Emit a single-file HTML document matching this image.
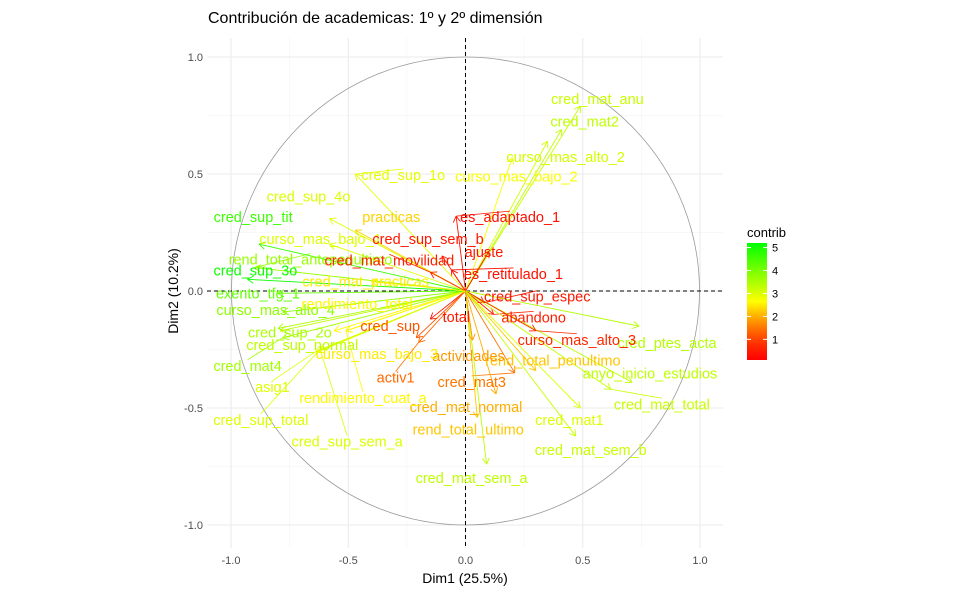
<!DOCTYPE html>
<html><head><meta charset="utf-8"><style>
body{margin:0;background:#fff;font-family:"Liberation Sans",Arial,sans-serif}
svg text{font-family:"Liberation Sans",Arial,sans-serif}
</style></head><body>
<svg id="chart" width="960" height="593" xmlns="http://www.w3.org/2000/svg">
<text x="208" y="23" font-size="16" fill="#000">Contribución de academicas: 1º y 2º dimensión</text>
<g id="grid"></g>
<g id="axes"></g>
<g id="marks"></g>
<g id="labels"></g>
<text x="465" y="583" font-size="14" text-anchor="middle" fill="#000">Dim1 (25.5%)</text>
<text transform="translate(178,291) rotate(-90)" font-size="14" text-anchor="middle" fill="#000">Dim2 (10.2%)</text>
<g id="legend"></g>
</svg>
<script>
const names=["cred_mat_anu","cred_mat2","curso_mas_alto_2","curso_mas_bajo_2","es_adaptado_1","ajuste","es_retitulado_1","cred_sup_espec","abandono","cred_ptes_acta","anyo_inicio_estudios","cred_mat_total","curso_mas_alto_3","rend_total_penultimo","cred_mat3","cred_mat_normal","rend_total_ultimo","cred_mat1","cred_mat_sem_b","cred_mat_sem_a","actividades","total","cred_sup","activ1","curso_mas_bajo_3","cred_sup_total","cred_sup_sem_a","rendimiento_cuat_a","asig1","cred_mat4","cred_sup_normal","cred_sup_2o","curso_mas_alto_4","rendimiento_total","exento_tfg_1","cred_sup_3o","rend_total_antepenultimo","cred_sup_tit","curso_mas_bajo_1","practicas","cred_sup_4o","cred_sup_1o","cred_sup_sem_b","cred_mat_movilidad","cred_mat_practicas"];
const dim1=[0.49,0.41,0.35,0.20,-0.04,0.10,-0.06,0.08,0.12,0.74,0.71,0.62,0.30,0.30,0.21,0.13,0.05,0.49,0.47,0.09,0.03,-0.15,-0.21,-0.20,-0.51,-0.63,-0.62,-0.51,-0.64,-0.78,-0.79,-0.80,-0.78,-0.56,-0.80,-0.93,-0.90,-0.88,-0.58,-0.47,-0.58,-0.47,-0.10,-0.15,-0.40];
const dim2=[0.79,0.69,0.64,0.57,0.32,0.17,0.09,-0.05,-0.10,-0.15,-0.39,-0.42,-0.17,-0.34,-0.35,-0.44,-0.54,-0.50,-0.62,-0.74,-0.21,-0.12,-0.20,-0.22,-0.17,-0.26,-0.25,-0.17,-0.26,-0.20,-0.17,-0.16,-0.09,-0.17,-0.01,0.05,0.10,0.20,0.20,0.26,0.31,0.50,0.15,0.08,0.04];
const contrib=[3.2,3.3,3.1,2.7,0.4,0.5,0.4,0.5,0.6,3.4,3.3,3.2,0.7,2.2,1.5,2.0,2.2,3.0,3.2,3.3,1.8,0.5,1.2,1.4,2.5,3.0,3.0,2.6,3.0,3.6,3.3,3.5,3.8,2.6,4.2,5.1,3.7,4.6,3.0,2.3,3.0,2.9,0.5,0.6,2.5];
const ticks=[-1.0,-0.5,0.0,0.5,1.0];
const tickLabels=["-1.0","-0.5","0.0","0.5","1.0"];
const legendTicks=[1,2,3,4,5];
// label offsets (layout, px relative to arrow tip)
const lOff=[[17,-7],[23,-8],[18,16],[4,19],[54,1],[-5,1],[62,4],[53,-6],[40,3],[28,17],[18,-9],[51,15],[41,9],[17,-10],[-43,9],[-30,13],[-9,12],[-11,12],[15,14],[-15,14],[-4,16],[26,-2],[-26,-12],[-23,35],[31,23],[-57,68],[27,92],[17,67],[-43,35],[-35,28],[22,14],[12,4],[-7,-2],[23,-27],[-20,0],[8,-9],[56,-8],[-6,-27],[-9,-5],[36,-13],[-21,-22],[48,1],[-14,-17],[-41,-12],[-6,0]];
const X=v=>465.5+v*234.5, Y=v=>291-v*234;
const NS="http://www.w3.org/2000/svg";
function mk(tag,attrs,parent){const e=document.createElementNS(NS,tag);for(const k in attrs)e.setAttribute(k,attrs[k]);parent.appendChild(e);return e;}
function col(c){const lo=0.1,mid=2.65,hi=5.2;let r,g,b;
 if(c<=mid){const t=Math.max(0,(c-lo)/(mid-lo));r=255;g=Math.round(255*Math.pow(t,1.3));b=0;}
 else{const t=Math.min(1,(c-mid)/(hi-mid));r=Math.round(255*(1-t));g=255;b=0;}
 return `rgb(${r},${g},${b})`;}
const grid=document.getElementById('grid');
[-0.75,-0.25,0.25,0.75].forEach(v=>{mk('line',{x1:X(v),x2:X(v),y1:38,y2:548,stroke:'#f2f2f2','stroke-width':0.6},grid);mk('line',{x1:207,x2:723,y1:Y(v),y2:Y(v),stroke:'#f2f2f2','stroke-width':0.6},grid);});
ticks.forEach(v=>{mk('line',{x1:X(v),x2:X(v),y1:38,y2:548,stroke:'#ebebeb','stroke-width':1.1},grid);mk('line',{x1:207,x2:723,y1:Y(v),y2:Y(v),stroke:'#ebebeb','stroke-width':1.1},grid);});
const axes=document.getElementById('axes');
ticks.forEach((v,i)=>{const t=mk('text',{x:X(v),y:564,'font-size':11,'text-anchor':'middle',fill:'#4d4d4d'},axes);t.textContent=tickLabels[i];
 const u=mk('text',{x:203,y:Y(v)+4,'font-size':11,'text-anchor':'end',fill:'#4d4d4d'},axes);u.textContent=tickLabels[i];});
const circ=mk('circle',{cx:X(0),cy:Y(0),r:234,fill:'none',stroke:'#999','stroke-width':0.8},axes);


mk('line',{x1:X(0),x2:X(0),y1:38,y2:548,stroke:'#000','stroke-dasharray':'4,3','stroke-width':1},axes);
mk('line',{x1:207,x2:723,y1:Y(0),y2:Y(0),stroke:'#000','stroke-dasharray':'4,3','stroke-width':1},axes);
const marks=document.getElementById('marks'),labs=document.getElementById('labels');
names.forEach((n,i)=>{const c=col(contrib[i]);const x1=X(0),y1=Y(0),x2=X(dim1[i]),y2=Y(dim2[i]);
 const g=mk('g',{},marks);
 
 
 mk('line',{x1,y1,x2,y2,stroke:c,'stroke-width':0.9},g);
 const a=Math.atan2(y2-y1,x2-x1),L=7;
 [a+2.6,a-2.6].forEach(b=>mk('line',{x1:x2,y1:y2,x2:x2+L*Math.cos(b),y2:y2+L*Math.sin(b),stroke:c,'stroke-width':0.9},g));
 const lx=x2+lOff[i][0],ly=y2+lOff[i][1];
 if(Math.hypot(lOff[i][0],lOff[i][1])>40){mk('line',{x1:x2,y1:y2,x2:lx,y2:ly-6,stroke:c,'stroke-width':0.8},g);}
 const t=mk('text',{x:lx,y:ly+5,'font-size':14.5,'text-anchor':'middle',fill:c},labs);
 
 
 t.textContent=n;});
const leg=document.getElementById('legend');
const lt=mk('text',{x:747,y:237,'font-size':13,fill:'#000'},leg);lt.textContent='contrib';
const defs=mk('defs',{},leg);const gr=mk('linearGradient',{id:'lg',x1:0,y1:1,x2:0,y2:0},defs);
[0,0.125,0.25,0.375,0.5,0.75,1].forEach(o=>mk('stop',{offset:o,'stop-color':col(0.1+o*5.1)},gr));
const bar=mk('rect',{x:747,y:243,width:20,height:117,fill:'url(#lg)'},leg);


legendTicks.forEach(v=>{const y=360-(v-0.1)/5.1*117;
 mk('line',{x1:747,x2:751,y1:y,y2:y,stroke:'#fff'},leg);mk('line',{x1:763,x2:767,y1:y,y2:y,stroke:'#fff'},leg);
 const t=mk('text',{x:772,y:y+4,'font-size':11,fill:'#000'},leg);t.textContent=v;});
</script>
</body></html>
